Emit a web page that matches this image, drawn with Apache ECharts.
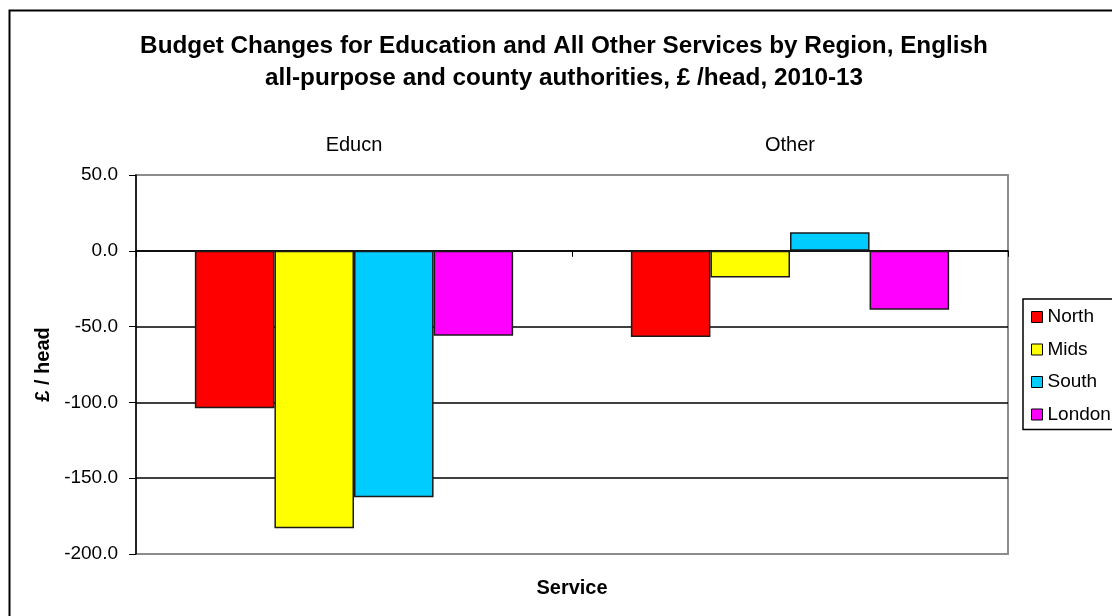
<!DOCTYPE html>
<html>
<head>
<meta charset="utf-8">
<script src="https://cdn.jsdelivr.net/npm/echarts@6/dist/echarts.min.js"></script>
<style>html,body{margin:0;padding:0;background:#fff}#c{width:1112px;height:616px}</style>
</head>
<body>
<div id="c"></div>
<script>
const categories = ['Educn', 'Other'];
const north = [-103.8, -56.9];
const mids = [-183.0, -17.6];
const south = [-162.6, 12.2];
const london = [-56.0, -38.9];
const seriesNames = ['North', 'Mids', 'South', 'London'];
const seriesColors = ['#FF0000', '#FFFF00', '#00CCFF', '#FF00FF'];
const seriesData = [north, mids, south, london];

const FONT = 'Liberation Sans, Arial, sans-serif';
const chart = echarts.init(document.getElementById('c'));
chart.setOption({
  backgroundColor: '#fff',
  animation: false,
  textStyle: { fontFamily: FONT, color: '#000' },
  graphic: [{
    type: 'rect', left: 7, top: 8, silent: true,
    shape: { width: 1200, height: 700 },
    style: { fill: 'none', stroke: '#000', lineWidth: 2 }
  }],
  title: {
    text: 'Budget Changes for Education and All Other Services by Region, English\nall-purpose and county authorities, £ /head, 2010-13',
    left: 564, top: 31, padding: 0,
    textAlign: 'center',
    textStyle: { fontFamily: FONT, fontSize: 24.3, fontWeight: 'bold', lineHeight: 31.6, color: '#000' }
  },
  legend: {
    orient: 'vertical', left: 1023, top: 299,
    padding: [8, 30, 5, 8],
    borderColor: '#000', borderWidth: 1.5,
    itemWidth: 11, itemHeight: 11, itemGap: 12.5, itemTextGap: 6,
    icon: 'rect',
    itemStyle: { borderColor: '#000', borderWidth: 1 },
    textStyle: { fontFamily: FONT, fontSize: 19, lineHeight: 20, color: '#000' },
    data: seriesNames
  },
  grid: {
    left: 136, right: 104, top: 175, bottom: 62,
    show: true, borderColor: '#8c8c8c', borderWidth: 2, backgroundColor: '#fff'
  },
  xAxis: [{
    type: 'category', data: categories, position: 'bottom',
    axisLine: { show: true, onZero: true, lineStyle: { color: '#000', width: 1.5 } },
    axisTick: { show: true, length: 6, lineStyle: { color: '#000' } },
    axisLabel: { show: false },
    splitLine: { show: false }
  }, {
    type: 'category', data: categories, position: 'top',
    axisLine: { show: false, onZero: false },
    axisTick: { show: false },
    axisLabel: { show: true, margin: 20, fontSize: 20, fontFamily: FONT, color: '#000' }
  }, {
    type: 'category', data: categories, position: 'bottom',
    axisLine: { show: false, onZero: false },
    axisTick: { show: false },
    axisLabel: { show: false },
    name: 'Service', nameLocation: 'middle', nameGap: 24,
    nameTextStyle: { fontFamily: FONT, fontSize: 20, fontWeight: 'bold', color: '#000' }
  }],
  yAxis: {
    type: 'value', min: -200, max: 50, interval: 50,
    name: '£ / head', nameLocation: 'middle', nameGap: 81,
    nameTextStyle: { fontFamily: FONT, fontSize: 20, fontWeight: 'bold', color: '#000' },
    axisLine: { show: true, lineStyle: { color: '#000', width: 1.5 } },
    axisTick: { show: true, length: 7, lineStyle: { color: '#000' } },
    axisLabel: { fontSize: 19, margin: 18, color: '#000', fontFamily: FONT, formatter: v => v.toFixed(1) },
    splitLine: { show: true, lineStyle: { color: ['#8c8c8c', '#000', '#000', '#000', '#000', '#8c8c8c'], width: 1.5 } }
  },
  series: seriesNames.map((n, i) => ({
    name: n, type: 'bar', data: seriesData[i], xAxisIndex: 0,
    barGap: '0%', barCategoryGap: '27%',
    itemStyle: { color: seriesColors[i], borderColor: '#1a1a1a', borderWidth: 1.5 }
  }))
});
</script>
</body>
</html>
